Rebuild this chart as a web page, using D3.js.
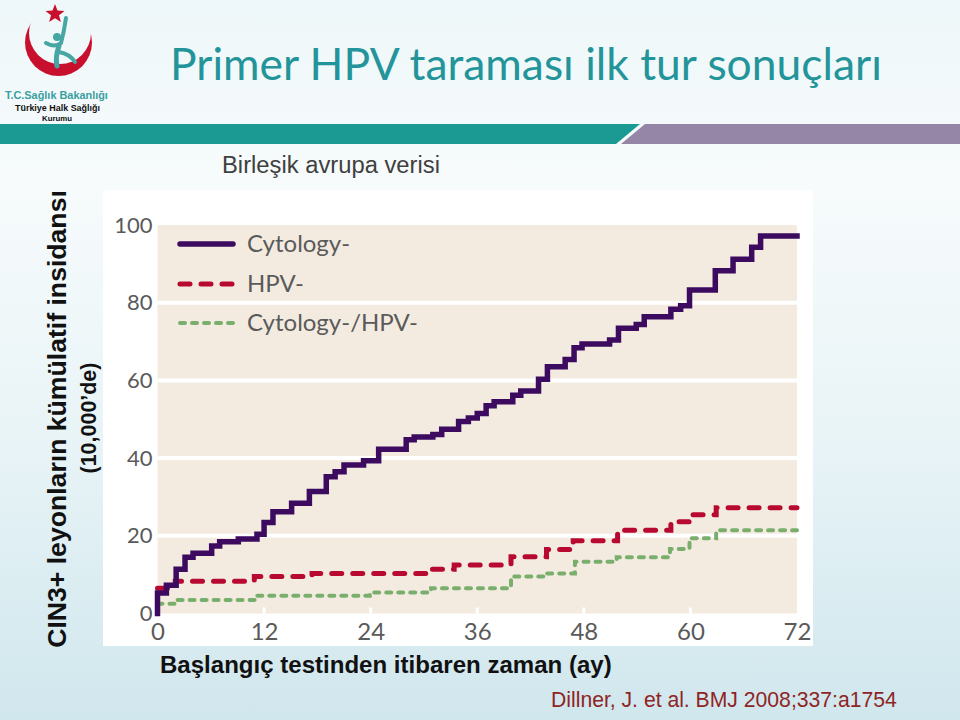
<!DOCTYPE html>
<html>
<head>
<meta charset="utf-8">
<script src="https://cdn.jsdelivr.net/npm/d3@7"></script>
<style>
  body { margin: 0; }
  svg { display: block; }
</style>
</head>
<body>
<svg id="slide" width="960" height="720"></svg>
<script>
// step points (month where the step happens, value after it)
var cytoMonths = [0, 0, 1.0, 2.1, 3.1, 4.0, 6.1, 7.0, 9.1, 11.2, 12.0, 13.0, 15.1, 17.1, 19.0, 20.0, 21.0, 23.2, 24.9, 28.0, 28.9, 31.0, 32.0, 33.9, 35.0, 36.0, 37.0, 37.9, 40.0, 40.9, 42.9, 43.9, 45.9, 46.9, 47.8, 50.9, 51.9, 53.9, 54.8, 57.8, 58.9, 59.9, 62.8, 64.8, 66.9, 67.9, 72];
var cytoValues = [0, 5.3, 7.3, 11.4, 14.5, 15.5, 17.4, 18.5, 19.2, 20.4, 23.4, 26.2, 28.4, 31.4, 35.2, 36.5, 38.2, 39.3, 42.3, 44.7, 45.4, 46.1, 47.4, 49.4, 50.3, 51.5, 53.5, 54.5, 56.2, 57.3, 60.3, 63.5, 65.4, 68.4, 69.4, 70.4, 73.4, 74.4, 76.4, 78.3, 79.2, 83.3, 88.2, 91.2, 94.3, 97.2, 97.2];

var hpvMonths = [0, 2.0, 10.9, 17.4, 30.8, 33.4, 39.8, 43.8, 46.8, 51.8, 57.8, 59.9, 62.9, 72];
var hpvValues = [6.5, 8.3, 9.5, 10.3, 11.4, 12.5, 14.6, 16.5, 18.7, 21.4, 23.6, 25.4, 27.2, 27.2];

var bothMonths = [0, 2.0, 11.0, 23.9, 30.8, 39.8, 43.8, 47.0, 51.7, 57.7, 59.9, 62.9, 72];
var bothValues = [2.5, 3.5, 4.6, 5.4, 6.5, 9.5, 10.3, 13.3, 14.5, 16.6, 19.4, 21.4, 21.4];

var seriesNames = ["Cytology-", "HPV-", "Cytology-/HPV-"];
var xTicks = [0, 12, 24, 36, 48, 60, 72];
var yTicks = [0, 20, 40, 60, 80, 100];
var gridTicks = [20, 40, 60, 80];

var colors = ["#3c0b60", "#b80a30", "#7aae6c"];
var dashes = [null, "10,11", "5,7"];
var widths = [5.5, 5, 4];

var svg = d3.select("#slide");

// fit a text element to a target width by scaling its font size
function fitWidth(sel, target) {
  var fs = parseFloat(sel.attr("font-size"));
  var w = sel.node().getComputedTextLength();
  if (w > 0) sel.attr("font-size", fs * target / w);
  return sel;
}

// ---- slide background ----
var defs = svg.append("defs");
var bg = defs.append("linearGradient").attr("id", "bg").attr("x1", 0).attr("y1", 0).attr("x2", 0).attr("y2", 1);
bg.append("stop").attr("offset", "0%").attr("stop-color", "#eef7f9");
bg.append("stop").attr("offset", "25%").attr("stop-color", "#f7fbfc");
bg.append("stop").attr("offset", "60%").attr("stop-color", "#e9f4f7");
bg.append("stop").attr("offset", "100%").attr("stop-color", "#d0e7ed");
svg.append("rect").attr("width", 960).attr("height", 720).attr("fill", "url(#bg)");

// header band
svg.append("polygon").attr("points", "0,124 640,124 616,144 0,144").attr("fill", "#1b9a94");
svg.append("polygon").attr("points", "645,124 960,124 960,144 621,144").attr("fill", "#9585a6");

// logo
var mask = defs.append("mask").attr("id", "crescent");
mask.append("rect").attr("width", 200).attr("height", 130).attr("fill", "white");
mask.append("circle").attr("cx", 60).attr("cy", 33).attr("r", 31).attr("fill", "black");
svg.append("circle").attr("cx", 58.5).attr("cy", 42.5).attr("r", 33.5)
  .attr("fill", "#c8102e").attr("mask", "url(#crescent)");
var star = d3.range(10).map(function (i) {
  var a = -Math.PI / 2 + i * Math.PI / 5, r = i % 2 ? 4.2 : 10;
  return [55 + r * Math.cos(a), 14 + r * Math.sin(a)];
});
svg.append("polygon").attr("points", star.join(" ")).attr("fill", "#c8102e");
var fig = svg.append("g").attr("fill", "none").attr("stroke", "#45a6a3").attr("stroke-linecap", "round");
fig.append("circle").attr("cx", 57).attr("cy", 37).attr("r", 4).attr("fill", "#45a6a3").attr("stroke", "none");
fig.append("path").attr("d", "M46,43 Q55,48 61,43 Q64,32 66,18").attr("stroke-width", 4);
fig.append("path").attr("d", "M59,46 Q55,57 57,66").attr("stroke-width", 5);
fig.append("path").attr("d", "M59,52 Q70,54 75,62").attr("stroke-width", 4);

var logoText = svg.append("g").attr("font-family", "Liberation Sans, Arial, sans-serif").attr("font-weight", "bold");
fitWidth(logoText.append("text").attr("x", 5).attr("y", 99).attr("font-size", 13)
  .attr("fill", "#3a9fa0").text("T.C.Sağlık Bakanlığı"), 103);
fitWidth(logoText.append("text").attr("x", 15).attr("y", 111).attr("font-size", 10)
  .attr("fill", "#111").text("Türkiye Halk Sağlığı"), 85);
fitWidth(logoText.append("text").attr("x", 42).attr("y", 121).attr("font-size", 10)
  .attr("fill", "#111").text("Kurumu"), 30);

// title + subtitle
fitWidth(svg.append("text").attr("x", 170).attr("y", 80).attr("font-size", 40)
  .attr("font-family", "Lato, Open Sans, sans-serif").attr("fill", "#23959a")
  .text("Primer HPV taraması ilk tur sonuçları"), 712);
fitWidth(svg.append("text").attr("x", 222).attr("y", 173).attr("font-size", 22)
  .attr("font-family", "Liberation Sans, Arial, sans-serif").attr("fill", "#404040")
  .text("Birleşik avrupa verisi"), 218);

// ---- chart ----
svg.append("rect").attr("x", 103).attr("y", 190).attr("width", 710).attr("height", 456).attr("fill", "#ffffff");

var x = d3.scaleLinear().domain([0, 72]).range([157.5, 797]);
var y = d3.scaleLinear().domain([0, 100]).range([613.5, 225]);

svg.append("rect")
  .attr("x", x(0)).attr("y", y(100))
  .attr("width", x(72) - x(0)).attr("height", y(0) - y(100))
  .attr("fill", "#f3ebe0");

svg.append("g").selectAll("line").data(gridTicks).join("line")
  .attr("x1", x(0)).attr("x2", x(72))
  .attr("y1", d => y(d)).attr("y2", d => y(d))
  .attr("stroke", "#ffffff").attr("stroke-width", 4);

svg.append("g").selectAll("line").data(xTicks.slice(1, -1)).join("line")
  .attr("x1", d => x(d)).attr("x2", d => x(d))
  .attr("y1", y(0)).attr("y2", y(0) - 6)
  .attr("stroke", "#ffffff").attr("stroke-width", 3);

var xAxis = svg.append("g").attr("transform", "translate(0," + y(0) + ")")
  .call(d3.axisBottom(x).tickValues(xTicks).tickSize(0).tickPadding(9));
var yAxis = svg.append("g").attr("transform", "translate(" + x(0) + ",0)")
  .call(d3.axisLeft(y).tickValues(yTicks).tickSize(0).tickPadding(5));
[xAxis, yAxis].forEach(function (g) {
  g.select(".domain").remove();
  g.selectAll("text").attr("font-family", "Lato, Open Sans, sans-serif").attr("fill", "#5a5a5a");
});
xAxis.selectAll("text").attr("font-size", 24);
yAxis.selectAll("text").attr("font-size", 22);

var line = d3.line().x(d => x(d[0])).y(d => y(d[1])).curve(d3.curveStepAfter);
var series = [
  d3.zip(cytoMonths, cytoValues),
  d3.zip(hpvMonths, hpvValues),
  d3.zip(bothMonths, bothValues)
];

// draw in back-to-front order so purple sits on top
[2, 1, 0].forEach(function (i) {
  svg.append("path").datum(series[i])
    .attr("d", line)
    .attr("fill", "none")
    .attr("stroke", colors[i])
    .attr("stroke-width", widths[i])
    .attr("stroke-dasharray", dashes[i])
    .attr("stroke-linecap", i === 0 ? "square" : "round")
    .attr("stroke-linejoin", "miter");
});

// legend
var legendY = [244, 284, 323];
var legend = svg.append("g");
seriesNames.forEach(function (name, i) {
  legend.append("line")
    .attr("x1", 180).attr("x2", 233).attr("y1", legendY[i]).attr("y2", legendY[i])
    .attr("stroke", colors[i]).attr("stroke-width", widths[i])
    .attr("stroke-dasharray", dashes[i]).attr("stroke-linecap", "round");
  legend.append("text")
    .attr("x", 247).attr("y", legendY[i]).attr("dy", "0.35em")
    .attr("font-family", "Lato, Open Sans, sans-serif").attr("font-size", 24)
    .attr("fill", "#5a5a5a").text(name);
});

// axis titles
var yt = svg.append("text")
  .attr("transform", "translate(66,419) rotate(-90)")
  .attr("text-anchor", "middle").attr("font-size", 26).attr("font-weight", "bold")
  .attr("font-family", "Liberation Sans, Arial, sans-serif").attr("fill", "#111")
  .text("CIN3+ leyonların kümülatif insidansı");
fitWidth(yt, 458);
var yt2 = svg.append("text")
  .attr("transform", "translate(96,418) rotate(-90)")
  .attr("text-anchor", "middle").attr("font-size", 18).attr("font-weight", "bold")
  .attr("font-family", "Liberation Sans, Arial, sans-serif").attr("fill", "#111")
  .text("(10,000’de)");
fitWidth(yt2, 111);

fitWidth(svg.append("text").attr("x", 160).attr("y", 673).attr("font-size", 22)
  .attr("font-weight", "bold").attr("font-family", "Liberation Sans, Arial, sans-serif")
  .attr("fill", "#111").text("Başlangıç testinden itibaren zaman (ay)"), 452);

fitWidth(svg.append("text").attr("x", 551).attr("y", 707).attr("font-size", 20)
  .attr("font-family", "Liberation Sans, Arial, sans-serif")
  .attr("fill", "#8f2424").text("Dillner, J. et al. BMJ 2008;337:a1754"), 346);
</script>
</body>
</html>
